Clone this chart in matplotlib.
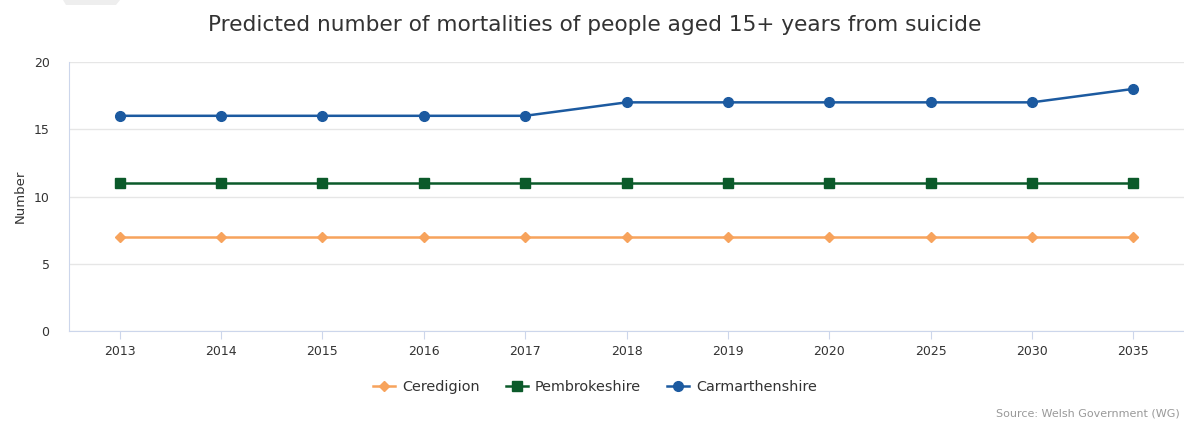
import matplotlib.pyplot as plt
from matplotlib.patches import Polygon

years = ['2013', '2014', '2015', '2016', '2017', '2018', '2019', '2020', '2025', '2030', '2035']
ceredigion = [7, 7, 7, 7, 7, 7, 7, 7, 7, 7, 7]
pembrokeshire = [11, 11, 11, 11, 11, 11, 11, 11, 11, 11, 11]
carmarthenshire = [16, 16, 16, 16, 16, 17, 17, 17, 17, 17, 18]

plt.rcParams['font.family'] = ['DejaVu Sans']

fig = plt.figure(figsize=(11.84, 4.21), dpi=100)
ax = fig.add_axes([69 / 1184, 90 / 421, 1 - 69 / 1184, 269 / 421])

x = list(range(len(years)))
ax.plot(x, ceredigion, color='#f7a35c', marker='D', markersize=5, lw=1.8, label='Ceredigion')
ax.plot(x, pembrokeshire, color='#0b5a2a', marker='s', markersize=7, lw=1.8, label='Pembrokeshire')
ax.plot(x, carmarthenshire, color='#1c5aa0', marker='o', markersize=7, lw=1.8, label='Carmarthenshire')

ax.set_xlim(-0.5, len(years) - 0.5)
ax.set_ylim(0, 20)
ax.set_yticks([0, 5, 10, 15, 20])
ax.set_xticks(x)
ax.set_xticklabels(years)
ax.grid(axis='y', color='#e6e6e6', lw=1)
ax.set_axisbelow(True)
for s in ['top', 'right']:
    ax.spines[s].set_visible(False)
for s in ['left', 'bottom']:
    ax.spines[s].set_color('#ccd6eb')
ax.tick_params(axis='y', length=0, pad=14, labelsize=9, labelcolor='#333333')
ax.tick_params(axis='x', length=6, color='#ccd6eb', pad=4, labelsize=9, labelcolor='#333333')
ax.set_ylabel('Number', fontsize=9.5, color='#333333', labelpad=5)

fig.text(595 / 1184, 1 - 25 / 421, 'Predicted number of mortalities of people aged 15+ years from suicide',
         ha='center', va='center', fontsize=15.6, color='#333333')

leg = fig.legend(loc='center', bbox_to_anchor=(595 / 1184, 1 - 387 / 421), ncol=3, frameon=False,
                 fontsize=10.4, handlelength=1.5, columnspacing=1.8, handletextpad=0.5)
for t in leg.get_texts():
    t.set_color('#333333')

fig.text(1180 / 1184, 1 - 413 / 421, 'Source: Welsh Government (WG)', ha='right', va='center',
         fontsize=8, color='#999999')

# faded tab at the top left
fig.patches.append(Polygon([(63 / 1184, 1), (120 / 1184, 1), (116 / 1184, 1 - 5 / 421), (66 / 1184, 1 - 5 / 421)],
                           closed=True, transform=fig.transFigure, facecolor='#eeeeee', edgecolor='none'))

fig.savefig('out.png', dpi=100)
